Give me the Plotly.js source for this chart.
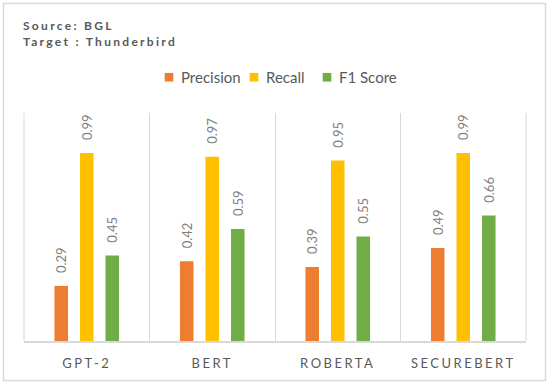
<!DOCTYPE html>
<html>
<head>
<meta charset="utf-8">
<script src="https://cdn.plot.ly/plotly-3.0.1.min.js"></script>
<style>
  html, body { margin: 0; padding: 0; background: #fff; }
  #chart { width: 550px; height: 385px; }
  .xtick text { letter-spacing: 2.5px; }
  .annotation-text { letter-spacing: 2.3px; }
  .legendpoints { transform: translate(13.6px, 0px) scale(0.72); }
</style>
</head>
<body>
<div id="chart"></div>
<script>
const categories = ["GPT-2", "BERT", "ROBERTA", "SECUREBERT"];
const precision = [0.29, 0.42, 0.39, 0.49];
const recall = [0.99, 0.97, 0.95, 0.99];
const f1Score = [0.45, 0.59, 0.55, 0.66];
const seriesNames = ["Precision", "Recall", "F1 Score"];
const seriesColors = ["#ED7D31", "#FFC000", "#70AD47"];
const titleLines = ["Source: BGL", "Target : Thunderbird"];

const FONT = "Lato, 'Open Sans', sans-serif";
const seriesValues = [precision, recall, f1Score];
const legendWidths = [40, 28, 57];

const traces = seriesValues.map((vals, i) => ({
  type: "bar",
  name: seriesNames[i],
  x: categories,
  y: vals,
  marker: { color: seriesColors[i] },
  texttemplate: "\u2002\u00A0%{y:.2f}",
  textposition: "outside",
  textangle: -90,
  constraintext: "none",
  textfont: { family: FONT, size: 13, color: "#7F7F7F" },
  cliponaxis: false,
  legendwidth: legendWidths[i],
  hoverinfo: "x+y+name"
}));

const W = 550, H = 385;
const m = { l: 24, r: 24, t: 113, b: 44 };
const pw = W - m.l - m.r, ph = H - m.t - m.b;
const px2x = px => (px - m.l) / pw;
const py2y = py => (H - m.b - py) / ph;

const layout = {
  width: W, height: H,
  margin: m,
  paper_bgcolor: "#fff",
  plot_bgcolor: "#fff",
  font: { family: FONT, color: "#595959" },
  barmode: "group",
  bargap: 0.39,
  bargroupgap: 0.47,
  showlegend: true,
  legend: {
    orientation: "h",
    x: 0.5 - 4 / pw, xanchor: "center",
    y: py2y(77.5), yanchor: "middle",
    font: { family: FONT, size: 15, color: "#595959" },
    itemwidth: 30,
    traceorder: "normal"
  },
  xaxis: {
    type: "category",
    tickson: "boundaries",
    showgrid: true,
    gridcolor: "#D9D9D9",
    gridwidth: 1,
    showline: true,
    linecolor: "#D9D9D9",
    linewidth: 1.5,
    mirror: false,
    ticks: "",
    tickfont: { family: FONT, size: 13, color: "#595959" },
    ticklabelstandoff: 10,
    fixedrange: true
  },
  yaxis: {
    range: [0, 1.2],
    showgrid: false,
    zeroline: false,
    showline: false,
    showticklabels: false,
    ticks: "",
    fixedrange: true
  },
  shapes: [
    { type: "line", xref: "paper", yref: "paper", x0: 0, x1: 0, y0: 0, y1: 1,
      line: { color: "#D9D9D9", width: 1 } },
    { type: "line", xref: "paper", yref: "paper", x0: 1, x1: 1, y0: 0, y1: 1,
      line: { color: "#D9D9D9", width: 1 } },
    { type: "rect", xref: "paper", yref: "paper",
      x0: px2x(3.5), x1: px2x(545.5), y0: py2y(380.5), y1: py2y(3.5),
      line: { color: "#D9D9D9", width: 1.5 }, fillcolor: "rgba(0,0,0,0)", layer: "below" }
  ],
  annotations: [
    { text: "<b>" + titleLines[0] + "</b>", xref: "paper", yref: "paper",
      x: px2x(21), xanchor: "left", y: py2y(25.5), yanchor: "middle", showarrow: false,
      font: { family: FONT, size: 12, color: "#595959" } },
    { text: "<b>" + titleLines[1] + "</b>", xref: "paper", yref: "paper",
      x: px2x(21), xanchor: "left", y: py2y(41.5), yanchor: "middle", showarrow: false,
      font: { family: FONT, size: 12, color: "#595959" } }
  ]
};

Plotly.newPlot("chart", traces, layout, { displayModeBar: false, staticPlot: true });
</script>
</body>
</html>
